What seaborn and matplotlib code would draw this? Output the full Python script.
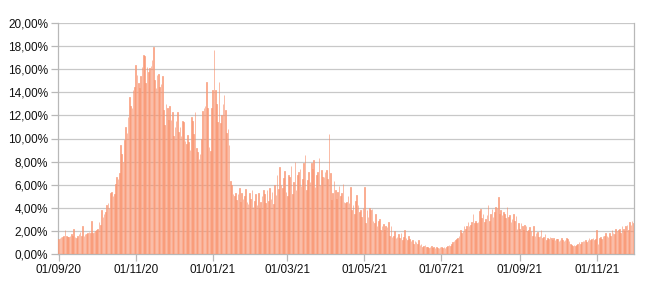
import numpy as np
import pandas as pd
import matplotlib
matplotlib.use("Agg")
import matplotlib.pyplot as plt
from matplotlib.ticker import FuncFormatter
import seaborn as sns

# Daily values (%), month by month
sep20 = [1.3, 1.4, 1.5, 1.5, 1.6, 2.1, 1.6, 1.5, 1.5, 1.6, 1.7, 1.6, 2.2, 1.5, 1.4, 1.6, 1.7, 1.9, 1.6, 2.4,
         1.6, 1.7, 1.7, 1.8, 1.9, 1.8, 2.9, 1.8, 1.9, 2.0]
oct20 = [2.1, 2.2, 2.8, 2.5, 3.8, 3.2, 3.5, 3.6, 4.2, 4.4, 4.0, 5.3, 5.4, 5.0, 5.2, 6.1, 6.7, 6.5, 7.0, 9.4,
         8.7, 8.0, 9.9, 11.0, 10.5, 11.9, 13.6, 12.8, 12.6, 14.2, 14.5]
nov20 = [16.4, 15.5, 14.8, 14.4, 15.4, 16.2, 17.2, 17.1, 14.8, 16.2, 15.8, 16.1, 16.3, 16.8, 17.9, 15.1, 14.4,
         15.5, 15.6, 14.5, 14.7, 15.4, 12.5, 11.2, 13.0, 12.6, 11.6, 12.8, 11.6, 12.3]
dec20 = [10.2, 11.0, 11.5, 12.3, 10.6, 11.0, 10.2, 11.5, 11.4, 9.8, 9.5, 10.3, 9.7, 9.0, 11.9, 11.5, 10.4, 12.3,
         9.2, 8.8, 8.2, 8.7, 10.0, 12.4, 12.6, 12.8, 14.9, 12.6, 9.3, 8.9, 12.6]
jan21 = [14.2, 17.7, 14.2, 13.0, 11.4, 14.9, 11.3, 12.0, 13.0, 13.8, 12.5, 10.5, 10.8, 9.4, 6.3, 6.0, 5.2, 5.0,
         5.3, 4.7, 5.2, 5.7, 4.5, 5.3, 4.8, 5.0, 5.6, 4.5, 4.3, 5.3, 4.8]
feb21 = [5.5, 4.1, 4.6, 5.2, 4.2, 5.3, 4.0, 4.5, 5.0, 5.5, 5.2, 4.4, 5.5, 4.6, 5.7, 4.8, 5.4, 4.3, 6.0, 5.1,
         6.8, 5.6, 7.5, 6.0, 5.7, 6.6, 7.2, 5.4]
mar21 = [5.0, 6.8, 6.7, 7.6, 5.2, 6.2, 8.0, 5.5, 6.8, 7.1, 7.4, 5.9, 6.5, 7.9, 8.6, 5.5, 6.4, 7.1, 6.2, 7.9,
         7.4, 8.1, 5.8, 6.8, 7.1, 8.3, 6.0, 7.3, 6.7, 6.7, 7.1]
apr21 = [7.3, 6.5, 10.4, 7.0, 4.7, 5.3, 6.3, 5.5, 4.8, 5.4, 5.9, 5.0, 5.3, 6.1, 4.5, 4.4, 4.5, 5.0, 4.4, 5.8,
         3.8, 4.2, 3.5, 4.6, 5.1, 4.2, 3.6, 3.8, 3.2, 4.0]
may21 = [5.8, 2.7, 3.8, 3.2, 4.0, 3.8, 3.9, 2.9, 2.7, 3.5, 2.4, 2.9, 3.0, 2.1, 2.4, 2.6, 2.1, 2.4, 2.3, 2.8,
         1.6, 2.4, 1.5, 1.6, 2.0, 1.4, 1.5, 1.7, 1.4, 1.8, 1.2]
jun21 = [1.5, 2.1, 1.4, 1.2, 1.6, 1.3, 1.1, 1.2, 0.9, 1.1, 1.0, 0.9, 1.2, 0.8, 0.9, 0.6, 0.7, 0.8, 0.6, 0.6,
         0.5, 0.6, 0.7, 0.5, 0.6, 0.5, 0.6, 0.5, 0.5, 0.6]
jul21 = [0.6, 0.5, 0.6, 0.5, 0.6, 0.7, 0.8, 0.7, 0.9, 1.0, 1.1, 1.2, 1.3, 1.4, 1.6, 2.1, 1.8, 2.0, 2.4, 2.2,
         2.4, 2.8, 2.4, 2.5, 2.8, 3.5, 2.7, 2.9, 2.7, 2.8, 3.7]
aug21 = [3.9, 3.1, 3.5, 2.8, 3.0, 3.4, 4.2, 2.9, 3.5, 3.9, 3.2, 3.6, 4.1, 4.0, 4.9, 3.5, 3.8, 3.4, 3.6, 3.5,
         3.1, 4.1, 3.2, 3.4, 2.8, 3.0, 3.5, 2.9, 3.3, 2.2, 2.7]
sep21 = [2.2, 2.7, 2.4, 2.1, 2.5, 2.4, 2.0, 2.1, 2.3, 2.0, 1.6, 2.4, 1.6, 1.8, 1.9, 1.5, 1.6, 2.1, 1.4, 1.5,
         1.7, 1.2, 1.4, 1.3, 1.5, 1.4, 1.2, 1.4, 1.2, 1.3]
oct21 = [1.3, 1.1, 1.2, 1.4, 1.2, 1.1, 1.2, 1.4, 1.3, 1.1, 0.9, 0.8, 0.7, 0.8, 0.7, 0.8, 0.9, 1.0, 0.9, 1.0,
         1.1, 1.1, 1.2, 1.0, 1.2, 1.4, 1.2, 1.3, 1.4, 1.2, 1.3]
nov21 = [2.1, 0.9, 1.4, 1.5, 1.3, 1.6, 1.6, 1.8, 1.6, 1.5, 1.8, 1.6, 2.1, 1.8, 1.7, 2.2, 2.0, 2.1, 2.2, 1.8,
         2.4, 2.2, 2.0, 2.4, 2.5, 2.1, 2.8, 2.5, 2.9, 2.7]

start_date = "2020-09-01"
tick_labels = ["01/09/20", "01/11/20", "01/01/21", "01/03/21", "01/05/21", "01/07/21", "01/09/21", "01/11/21"]
y_ticks = [0, 2, 4, 6, 8, 10, 12, 14, 16, 18, 20]

values = (sep20 + oct20 + nov20 + dec20 + jan21 + feb21 + mar21 + apr21 + may21 + jun21 + jul21 +
          aug21 + sep21 + oct21 + nov21)
dates = pd.date_range(start_date, periods=len(values), freq="D")
df = pd.DataFrame({"date": dates.strftime("%d/%m/%y"), "rate": values})

sns.set_theme(style="white")
plt.rcParams["font.family"] = ["Liberation Sans", "DejaVu Sans"]

fig = plt.figure(figsize=(6.5, 2.86), dpi=100)
ax = fig.add_axes([58 / 650, 1 - 254 / 286, (634 - 58) / 650, (254 - 23) / 286])

sns.barplot(data=df, x="date", y="rate", color="#ffbca3", saturation=1, width=0.5,
            edgecolor="#f78a63", linewidth=0.4, ax=ax, zorder=3)

ax.set_xlim(-0.5, len(values) - 0.5)
ax.set_ylim(0, 20)
ax.set_yticks(y_ticks)
ax.yaxis.set_major_formatter(FuncFormatter(lambda v, p: f"{v:.2f}".replace(".", ",") + "%"))

label_list = list(df["date"])
tick_pos = [label_list.index(t) for t in tick_labels]
ax.set_xticks(tick_pos)
ax.set_xticklabels(tick_labels)

ax.set_xlabel("")
ax.set_ylabel("")
ax.grid(axis="y", color="#c8c8c8", linewidth=0.9, zorder=0)
ax.grid(axis="x", visible=False)
for s in ax.spines.values():
    s.set_color("#b8b8b8")
    s.set_linewidth(0.9)
ax.spines["top"].set_visible(False)

ax.tick_params(axis="both", which="major", labelsize=8.5, colors="#b8b8b8",
               labelcolor="#111111", length=5, width=0.9, pad=2, direction="out")
ax.tick_params(axis="x", bottom=True, pad=2)
ax.tick_params(axis="y", left=True)

fig.savefig("out.png", dpi=100)
